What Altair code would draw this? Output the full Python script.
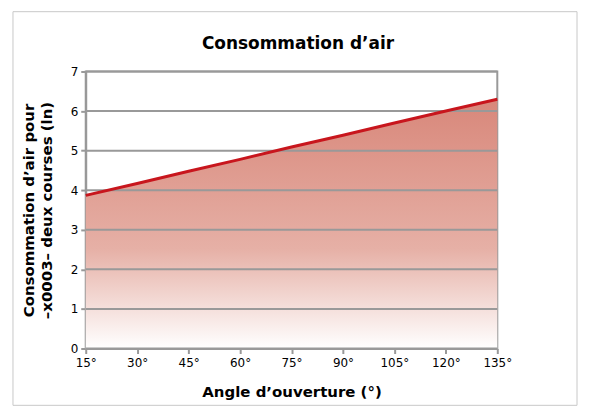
import altair as alt
import pandas as pd

angles = [15, 30, 45, 60, 75, 90, 105, 120, 135]
air = [3.87, 4.17, 4.48, 4.78, 5.09, 5.39, 5.70, 6.00, 6.30]
x_ticks = [15, 30, 45, 60, 75, 90, 105, 120, 135]
y_ticks = [0, 1, 2, 3, 4, 5, 6, 7]

title_text = "Consommation d’air"
x_title = "Angle d’ouverture (°)"
y_title = ["Consommation d’air pour", "–x0003– deux courses (ln)"]

df = pd.DataFrame({"angle": angles, "air": air})
grid_df = pd.DataFrame({"g": y_ticks})
FONT = "DejaVu Sans"

x_enc = alt.X("angle:Q", scale=alt.Scale(domain=[15, 135], nice=False, zero=False),
              axis=alt.Axis(values=x_ticks, labelExpr="datum.value + '°'", title=x_title,
                            grid=False, titlePadding=16, labelOverlap=False,
                            labelFlush=False, labelPadding=4))
y_enc = alt.Y("air:Q", scale=alt.Scale(domain=[0, 7], nice=False),
              axis=alt.Axis(values=y_ticks, tickCount=8, title=y_title, titlePadding=16,
                            grid=False, labelOverlap=False, labelPadding=3))

area = alt.Chart(df).mark_area(
    fill=alt.Gradient(gradient="linear", x1=0, y1=0, x2=0, y2=1,
                      stops=[alt.GradientStop(offset=0, color="#d8877a"),
                             alt.GradientStop(offset=0.6, color="#e6b0a6"),
                             alt.GradientStop(offset=1, color="#ffffff")]),
    opacity=1,
).encode(x=x_enc, y=y_enc)

grid = alt.Chart(grid_df).mark_rule(color="#999999", strokeWidth=2).encode(
    y=alt.Y("g:Q"))

line = alt.Chart(df).mark_line(color="#c8161d", strokeWidth=3).encode(x="angle:Q", y="air:Q")

one = pd.DataFrame({"a": [0]})
border = alt.Chart(one).mark_rect(fill=None, stroke="#c8c8c8", strokeWidth=1).encode(
    x=alt.value(-73), x2=alt.value(493), y=alt.value(-60), y2=alt.value(335))
title = alt.Chart(one).mark_text(text=title_text, font=FONT, fontSize=17, fontWeight="bold",
                                 color="#000").encode(x=alt.value(213), y=alt.value(-28))

chart = alt.layer(border, area, grid, line, title).properties(
    width=413, height=278,
    padding={"left": 4, "top": 2, "right": 5, "bottom": 5},
).configure_view(stroke="#999999", strokeWidth=2).configure_axis(
    domainColor="#999999", domainWidth=2,
    tickColor="#999999", tickWidth=2, tickSize=5,
    labelFont=FONT, labelFontSize=12, labelColor="#000",
    titleFont=FONT, titleFontSize=15, titleFontWeight="bold", titleColor="#000",
).configure_axisY(titleLineHeight=18)

chart.save("out.html", embed_options={"renderer": "svg", "actions": False})
